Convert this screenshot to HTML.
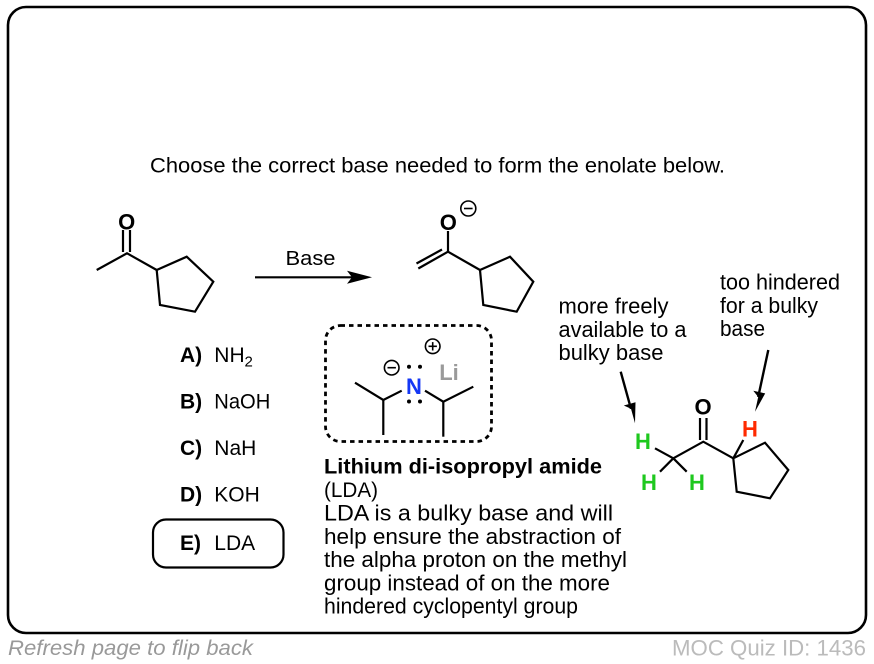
<!DOCTYPE html>
<html>
<head>
<meta charset="utf-8">
<style>
html,body{margin:0;padding:0;background:#fff;}
svg{display:block;}
text{font-family:"Liberation Sans",Arial,Helvetica,sans-serif;}
</style>
</head>
<body>
<svg width="874" height="664" viewBox="0 0 874 664" xmlns="http://www.w3.org/2000/svg">
  <!-- card -->
  <rect x="8" y="7" width="858" height="626" rx="18" ry="18" fill="#fff" stroke="#000" stroke-width="2.6"/>

  <!-- title -->
  <text x="150" y="172.5" font-size="21.5" textLength="575" lengthAdjust="spacingAndGlyphs" fill="#000">Choose the correct base needed to form the enolate below.</text>

  <g stroke="#000" stroke-width="2.2" fill="none" stroke-linejoin="miter" stroke-linecap="butt">
    <!-- ketone -->
    <polyline points="96.7,270 127,253.3 156.7,270"/>
    <line x1="123" y1="230" x2="123" y2="252"/>
    <line x1="130" y1="230" x2="130" y2="252"/>
    <polygon points="156.7,270 186.7,256.7 213.3,281.7 195,311.7 160,305"/>
    <!-- reaction arrow -->
    <line x1="255" y1="277.3" x2="354" y2="277.3"/>
    <!-- enolate -->
    <line x1="448" y1="231" x2="448" y2="251.7"/>
    <line x1="448" y1="251.7" x2="418.3" y2="268.5"/>
    <line x1="442" y1="249.5" x2="416.5" y2="263.5"/>
    <line x1="448" y1="251.7" x2="480" y2="270"/>
    <polygon points="480,270 510,256.7 533.3,281.7 516.7,311.7 483.3,305"/>
  </g>
  <polygon points="372,277.3 347,270.8 352,277.3 347,283.8" fill="#000"/>
  <text x="126.7" y="229.5" font-size="22" font-weight="bold" text-anchor="middle">O</text>
  <text x="285.5" y="265" font-size="20.5" textLength="50" lengthAdjust="spacingAndGlyphs">Base</text>
  <text x="448.3" y="230" font-size="22" font-weight="bold" text-anchor="middle">O</text>
  <g stroke="#000" stroke-width="1.6" fill="none">
    <circle cx="468.3" cy="208.5" r="7.5"/>
    <line x1="464" y1="208.5" x2="472.6" y2="208.5"/>
  </g>

  <!-- LDA box -->
  <rect x="325.5" y="325.5" width="166" height="116" rx="15" ry="15" fill="none" stroke="#000" stroke-width="2.8" stroke-dasharray="4.5 4"/>
  <g stroke="#000" stroke-width="2.2" fill="none">
    <polyline points="401.7,390.7 383.3,400 355,382.7"/>
    <line x1="383.3" y1="400" x2="383.3" y2="435"/>
    <polyline points="425,390.7 443.3,401.7 473.3,386.7"/>
    <line x1="443.3" y1="401.7" x2="443.3" y2="436.7"/>
  </g>
  <text x="414" y="394" font-size="22" font-weight="bold" text-anchor="middle" fill="#1437f5">N</text>
  <text x="449" y="380" font-size="22" font-weight="bold" text-anchor="middle" fill="#9a9a9a">Li</text>
  <g fill="#000">
    <circle cx="409" cy="366.7" r="2"/>
    <circle cx="420" cy="366.7" r="2"/>
    <circle cx="409" cy="401.5" r="2"/>
    <circle cx="420" cy="401.5" r="2"/>
  </g>
  <g stroke="#000" stroke-width="1.6" fill="none">
    <circle cx="391.7" cy="367.7" r="7.3"/>
    <line x1="387.5" y1="367.7" x2="395.9" y2="367.7"/>
    <circle cx="432.7" cy="346.3" r="7.3"/>
    <line x1="428.5" y1="346.3" x2="436.9" y2="346.3"/>
    <line x1="432.7" y1="342.1" x2="432.7" y2="350.5"/>
  </g>

  <!-- options -->
  <g font-size="21" fill="#000">
    <text x="180" y="362" font-weight="bold">A)</text>
    <text x="214.3" y="362">NH</text>
    <text x="244.5" y="366.5" font-size="15">2</text>
    <text x="180" y="408.5" font-weight="bold">B)</text>
    <text x="214.3" y="408.5" textLength="56" lengthAdjust="spacingAndGlyphs">NaOH</text>
    <text x="180" y="455" font-weight="bold">C)</text>
    <text x="214.3" y="455">NaH</text>
    <text x="180" y="501.5" font-weight="bold">D)</text>
    <text x="214.3" y="501.5">KOH</text>
    <text x="180" y="550" font-weight="bold">E)</text>
    <text x="214.3" y="550">LDA</text>
  </g>
  <rect x="153" y="519.5" width="130.5" height="48" rx="13" ry="13" fill="none" stroke="#000" stroke-width="2.2"/>

  <!-- LDA description -->
  <text x="324" y="473.5" font-size="21.5" font-weight="bold" textLength="278" lengthAdjust="spacingAndGlyphs">Lithium di-isopropyl amide</text>
  <text x="324" y="497" font-size="21.5" textLength="54" lengthAdjust="spacingAndGlyphs">(LDA)</text>
  <g font-size="22">
    <text x="324" y="520.5" textLength="289" lengthAdjust="spacingAndGlyphs">LDA is a bulky base and will</text>
    <text x="324" y="543.8" textLength="297" lengthAdjust="spacingAndGlyphs">help ensure the abstraction of</text>
    <text x="324" y="567.1" textLength="303" lengthAdjust="spacingAndGlyphs">the alpha proton on the methyl</text>
    <text x="324" y="590.4" textLength="286" lengthAdjust="spacingAndGlyphs">group instead of on the more</text>
    <text x="324" y="613.7" textLength="254" lengthAdjust="spacingAndGlyphs">hindered cyclopentyl group</text>
  </g>

  <!-- right annotations -->
  <g font-size="22">
    <text x="558.5" y="313.5" textLength="110" lengthAdjust="spacingAndGlyphs">more freely</text>
    <text x="558.5" y="336.8" textLength="128" lengthAdjust="spacingAndGlyphs">available to a</text>
    <text x="558.5" y="360.1" textLength="105" lengthAdjust="spacingAndGlyphs">bulky base</text>
    <text x="720" y="289.5" textLength="120" lengthAdjust="spacingAndGlyphs">too hindered</text>
    <text x="720" y="312.8" textLength="98" lengthAdjust="spacingAndGlyphs">for a bulky</text>
    <text x="720" y="336.1" textLength="45" lengthAdjust="spacingAndGlyphs">base</text>
  </g>
  <g stroke="#000" stroke-width="2.4" fill="none">
    <line x1="620.7" y1="371.7" x2="631" y2="408.8"/>
    <line x1="768.3" y1="350" x2="758.2" y2="397"/>
  </g>
  <polygon points="635,423.3 635.5,402.3 623.8,405.5 631,408.8" fill="#000"/>
  <polygon points="755,411.7 765.2,393.4 753.3,390.8 758.2,397" fill="#000"/>

  <!-- right molecule -->
  <g stroke="#000" stroke-width="2.2" fill="none">
    <line x1="700" y1="418" x2="700" y2="440"/>
    <line x1="706.5" y1="418" x2="706.5" y2="440"/>
    <polyline points="673.3,458.3 703.3,441.7 733.3,458.3"/>
    <line x1="655" y1="448.3" x2="673.3" y2="458.3"/>
    <line x1="673.3" y1="458.3" x2="660" y2="471.7"/>
    <line x1="673.3" y1="458.3" x2="686.7" y2="471.7"/>
    <line x1="733.3" y1="458.3" x2="743.3" y2="440"/>
    <polygon points="733.3,458.3 765,442.7 788.3,470 770,498.3 736.7,491.7"/>
  </g>
  <g font-size="22" font-weight="bold" text-anchor="middle">
    <text x="703" y="414.5" fill="#000">O</text>
    <text x="643" y="449" fill="#1ec81e">H</text>
    <text x="649" y="490" fill="#1ec81e">H</text>
    <text x="697" y="490" fill="#1ec81e">H</text>
    <text x="750" y="436.5" fill="#ff2a00">H</text>
  </g>

  <!-- footer -->
  <text x="8" y="655" font-size="21" font-style="italic" fill="#999" textLength="245" lengthAdjust="spacingAndGlyphs">Refresh page to flip back</text>
  <text x="672" y="655.5" font-size="22" fill="#bbb" textLength="194" lengthAdjust="spacingAndGlyphs">MOC Quiz ID: 1436</text>
</svg>
</body>
</html>
